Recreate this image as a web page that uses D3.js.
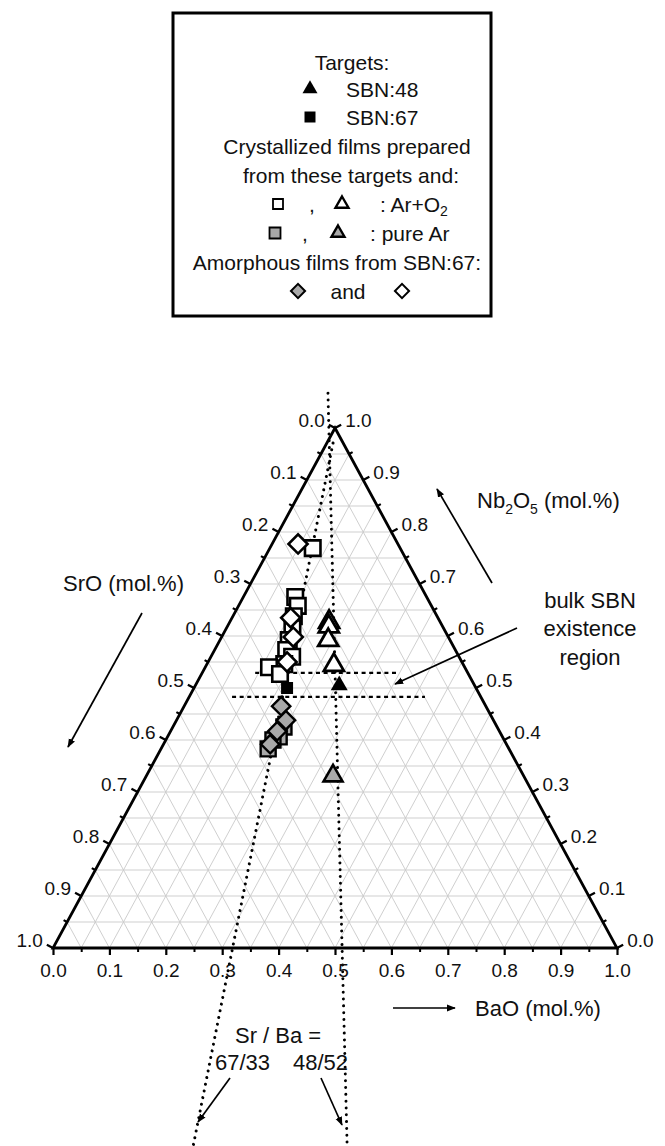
<!DOCTYPE html>
<html><head><meta charset="utf-8">
<script src="https://cdn.jsdelivr.net/npm/d3@7"></script>
<style>
body{margin:0;background:#fff}
text{font-family:"Liberation Sans",Arial,Helvetica,sans-serif;fill:#111}
</style>
</head><body>
<svg id="c" width="665" height="1146"></svg>
<script>
// ---------------- DATA ----------------
// composition triplets: [SrO, BaO, Nb2O5] (mole fractions)
const tickValues = [0,0.1,0.2,0.3,0.4,0.5,0.6,0.7,0.8,0.9,1.0];
const tickLabels = ["0.0","0.1","0.2","0.3","0.4","0.5","0.6","0.7","0.8","0.9","1.0"];
const minorTickValues = [0.05,0.15,0.25,0.35,0.45,0.55,0.65,0.75,0.85,0.95];

const targetSBN48 = [[0.240,0.255,0.505]];
const targetSBN67 = [[0.335,0.165,0.500]];

// crystallized films, Ar+O2 (open symbols)
const filmsArO2_SBN67 = [
  [0.155,0.076,0.769],[0.233,0.092,0.675],[0.237,0.105,0.658],[0.254,0.108,0.638],
  [0.268,0.117,0.615],[0.286,0.122,0.592],[0.300,0.127,0.573],[0.296,0.144,0.560],
  [0.317,0.137,0.546],[0.347,0.113,0.540],[0.334,0.139,0.527]
];
const filmsArO2_SBN48 = [
  [0.197,0.176,0.627],[0.202,0.180,0.618],[0.216,0.192,0.592],[0.230,0.226,0.544]
];
// crystallized films, pure Ar (grey symbols)
const filmsAr_SBN67 = [
  [0.378,0.197,0.425],[0.396,0.198,0.406],[0.410,0.190,0.400],[0.427,0.190,0.383]
];
const filmsAr_SBN48 = [[0.338,0.331,0.331]];
// amorphous films from SBN:67
const amorphousGrey = [
  [0.363,0.172,0.465],[0.368,0.194,0.438],[0.394,0.189,0.417],[0.419,0.189,0.392]
];
const amorphousOpen = [
  [0.177,0.046,0.777],[0.261,0.104,0.635],[0.275,0.127,0.598],[0.310,0.140,0.550]
];
// Sr/Ba ratio guide lines (end points, may lie outside the triangle)
const ratioLines = [
  {name:"67/33", from:[0.018,0.011,0.971], to:[0.942,0.439,-0.381]},
  {name:"48/52", from:[-0.021,-0.046,1.067], to:[0.669,0.712,-0.381]}
];
// bulk SBN existence region limits (constant Nb2O5)
const regionLines = [
  {from:[0.377,0.094,0.529], to:[0.124,0.347,0.529]},
  {from:[0.441,0.076,0.483], to:[0.099,0.418,0.483]}
];

// ---------------- CHART ----------------
const svg = d3.select("#c");
const x = d3.scaleLinear().domain([0,1]).range([53,617]);
const y = d3.scaleLinear().domain([0,1]).range([948,428]);
const P = d => [x(d[1] + d[2]/2), y(d[2])];

const gridVals = d3.range(1,20).map(i => i/20);
const gGrid = svg.append("g").attr("stroke","#c9c9c9").attr("stroke-width",0.9).attr("fill","none");
gridVals.forEach(v=>{
  const segs = [
    [[1-v,0,v],[0,1-v,v]],
    [[1-v,v,0],[0,v,1-v]],
    [[v,1-v,0],[v,0,1-v]]
  ];
  segs.forEach(s=>{
    const a=P(s[0]), b=P(s[1]);
    gGrid.append("line").attr("x1",a[0]).attr("y1",a[1]).attr("x2",b[0]).attr("y2",b[1]);
  });
});

// ratio guide lines
svg.append("g").selectAll("line").data(ratioLines).join("line")
  .attr("x1",d=>P(d.from)[0]).attr("y1",d=>P(d.from)[1])
  .attr("x2",d=>P(d.to)[0]).attr("y2",d=>P(d.to)[1])
  .attr("stroke","#000").attr("stroke-width",3).attr("stroke-linecap","round")
  .attr("stroke-dasharray","0.01 6.8");

svg.append("g").selectAll("line").data(regionLines).join("line")
  .attr("x1",d=>P(d.from)[0]).attr("y1",d=>P(d.from)[1])
  .attr("x2",d=>P(d.to)[0]).attr("y2",d=>P(d.to)[1])
  .attr("stroke","#000").attr("stroke-width",2.4)
  .attr("stroke-dasharray","4 3.6");

// triangle frame
const A=P([1,0,0]), B=P([0,1,0]), C=P([0,0,1]);
svg.append("path").attr("d",`M${A}L${B}L${C}Z`).attr("fill","none")
  .attr("stroke","#000").attr("stroke-width",2.8).attr("stroke-linejoin","miter");

// bottom axis (BaO)
const gB = svg.append("g").attr("transform",`translate(0,${y(0)})`)
  .call(d3.axisBottom(x).tickValues(tickValues).tickSize(7).tickSizeOuter(0).tickPadding(9)
     .tickFormat((d,i)=>tickLabels[i]));
gB.select(".domain").remove();
gB.selectAll(".tick line").attr("stroke","#000").attr("stroke-width",2.2);
gB.selectAll(".tick text").attr("font-size",19).attr("font-family","Liberation Sans, Arial").attr("fill","#111");
const gBm = svg.append("g").attr("transform",`translate(0,${y(0)})`)
  .call(d3.axisBottom(x).tickValues(minorTickValues).tickSize(4).tickSizeOuter(0).tickFormat(""));
gBm.select(".domain").remove();
gBm.selectAll(".tick line").attr("stroke","#000").attr("stroke-width",2);

// left (SrO) and right (Nb2O5) axes
function unit(v){const l=Math.hypot(v[0],v[1]);return [v[0]/l,v[1]/l];}
const nL = unit([-(C[1]-A[1]), (C[0]-A[0])]);
const leftN = nL[0] < 0 ? nL : [-nL[0],-nL[1]];
const nR0 = unit([(C[1]-B[1]), -(C[0]-B[0])]);
const rightN = nR0[0] > 0 ? nR0 : [-nR0[0],-nR0[1]];
const gAx = svg.append("g").attr("stroke","#000").attr("stroke-width",2.2);
function drawTicks(vals, posFn, n, len){
  vals.forEach(v=>{
    const p=posFn(v);
    gAx.append("line").attr("x1",p[0]).attr("y1",p[1]).attr("x2",p[0]+n[0]*len).attr("y2",p[1]+n[1]*len);
  });
}
const leftPos = v => P([v,0,1-v]);
const rightPos = v => P([0,1-v,v]);
drawTicks(tickValues,leftPos,leftN,7);
drawTicks(minorTickValues,leftPos,leftN,4);
drawTicks(tickValues,rightPos,rightN,7);
drawTicks(minorTickValues,rightPos,rightN,4);

const gLab = svg.append("g").attr("font-size",19);
tickValues.forEach((v,i)=>{
  const p=leftPos(v);
  gLab.append("text").attr("x",p[0]+leftN[0]*7-4).attr("y",p[1]+leftN[1]*7-4)
    .attr("text-anchor","end").attr("dominant-baseline","central").text(tickLabels[i]);
  const q=rightPos(v);
  gLab.append("text").attr("x",q[0]+rightN[0]*7+4).attr("y",q[1]+rightN[1]*7-4)
    .attr("text-anchor","start").attr("dominant-baseline","central").text(tickLabels[i]);
});

// ---------------- MARKERS ----------------
const sq = s => d3.symbol().type(d3.symbolSquare).size(s*s)();
const tri = w => d3.symbol().type(d3.symbolTriangle).size(Math.sqrt(3)/4*w*w)();
const dia = s => d3.symbol().type(d3.symbolSquare).size(s*s)();
function plot(data, path, fill, sw, rot){
  svg.append("g").selectAll("path").data(data).join("path")
    .attr("d",path)
    .attr("transform",d=>`translate(${P(d)})${rot?" rotate(45)":""}`)
    .attr("fill",fill).attr("stroke","#000").attr("stroke-width",sw);
}
const GREY="#a9a9a9";
plot(filmsAr_SBN67, sq(15), GREY, 2.4);
plot(amorphousGrey, dia(13), GREY, 2.4, true);
plot(filmsArO2_SBN67, sq(15.5), "#fff", 2.6);
plot(amorphousOpen, dia(13.5), "#fff", 2.6, true);
plot(filmsArO2_SBN48, tri(20), "#fff", 2.8);
plot(filmsAr_SBN48, tri(19), GREY, 2.6);
plot(targetSBN67, sq(12), "#000", 0);
plot(targetSBN48, tri(17), "#000", 0);

// ---------------- ANNOTATIONS ----------------
const defs = svg.append("defs");
defs.append("marker").attr("id","ah").attr("viewBox","0 0 10 10").attr("refX",9).attr("refY",5)
  .attr("markerWidth",9).attr("markerHeight",9).attr("markerUnits","userSpaceOnUse").attr("orient","auto")
  .append("path").attr("d","M0,1.2L10,5L0,8.8Z").attr("fill","#000");
function arrow(x1,y1,x2,y2){
  svg.append("line").attr("x1",x1).attr("y1",y1).attr("x2",x2).attr("y2",y2)
    .attr("stroke","#000").attr("stroke-width",1.7).attr("marker-end","url(#ah)");
}
const fs=22;
function txt(xp,yp,s,anchor){
  return svg.append("text").attr("x",xp).attr("y",yp).attr("font-size",fs)
    .attr("text-anchor",anchor||"start").text(s);
}
txt(63,591,"SrO (mol.%)");
arrow(142,613,68,747);
const nb = svg.append("text").attr("x",477).attr("y",508).attr("font-size",fs);
nb.append("tspan").text("Nb");
nb.append("tspan").attr("font-size",14).attr("dy",6).text("2");
nb.append("tspan").attr("dy",-6).text("O");
nb.append("tspan").attr("font-size",14).attr("dy",6).text("5");
nb.append("tspan").attr("dy",-6).text(" (mol.%)");
arrow(492,583,437,489);
txt(590,608,"bulk SBN","middle");
txt(590,636,"existence","middle");
txt(590,665,"region","middle");
arrow(517,628,395,684);
txt(475,1016,"BaO (mol.%)");
arrow(393,1008,455,1008);
txt(235,1043,"Sr / Ba =");
txt(215,1070,"67/33");
txt(293,1070,"48/52");
arrow(230,1078,198,1122);
arrow(321,1078,342,1125);

// ---------------- LEGEND ----------------
const lfs = 21;
const lg = svg.append("g");
lg.append("rect").attr("x",173).attr("y",13).attr("width",318).attr("height",303)
  .attr("fill","#fff").attr("stroke","#000").attr("stroke-width",3);
const rowY=[62,89,117,146,175,204,233,262,291];
function ltxt(xp,row,s,anchor){
  return lg.append("text").attr("x",xp).attr("y",rowY[row]).attr("dominant-baseline","central")
    .attr("font-size",lfs).attr("text-anchor",anchor||"start").text(s);
}
function lsym(path,xp,row,fill,sw,rot){
  lg.append("path").attr("d",path).attr("transform",`translate(${xp},${rowY[row]})${rot?" rotate(45)":""}`)
    .attr("fill",fill).attr("stroke","#000").attr("stroke-width",sw);
}
ltxt(352,0,"Targets:","middle");
lsym(tri(15),310,1,"#000",0); ltxt(346,1,"SBN:48");
lsym(sq(11),310,2,"#000",0); ltxt(346,2,"SBN:67");
ltxt(347,3,"Crystallized films prepared","middle");
ltxt(351,4,"from these targets and:","middle");
lsym(sq(10),278,5,"#fff",1.8); ltxt(312,5,",","middle"); lsym(tri(13),342,5,"#fff",2.4);
const ao = lg.append("text").attr("x",380).attr("y",rowY[5]).attr("dominant-baseline","central").attr("font-size",lfs);
ao.append("tspan").text(": Ar+O");
ao.append("tspan").attr("font-size",14).attr("dy",7).text("2");
lsym(sq(11),275,6,GREY,1.8); ltxt(305,6,",","middle"); lsym(tri(13),338,6,GREY,2.4);
ltxt(370,6,": pure Ar");
ltxt(337,7,"Amorphous films from SBN:67:","middle");
lsym(dia(10),298,8,GREY,2,true); ltxt(348,8,"and","middle"); lsym(dia(10),402,8,"#fff",2,true);
</script>
</body></html>
